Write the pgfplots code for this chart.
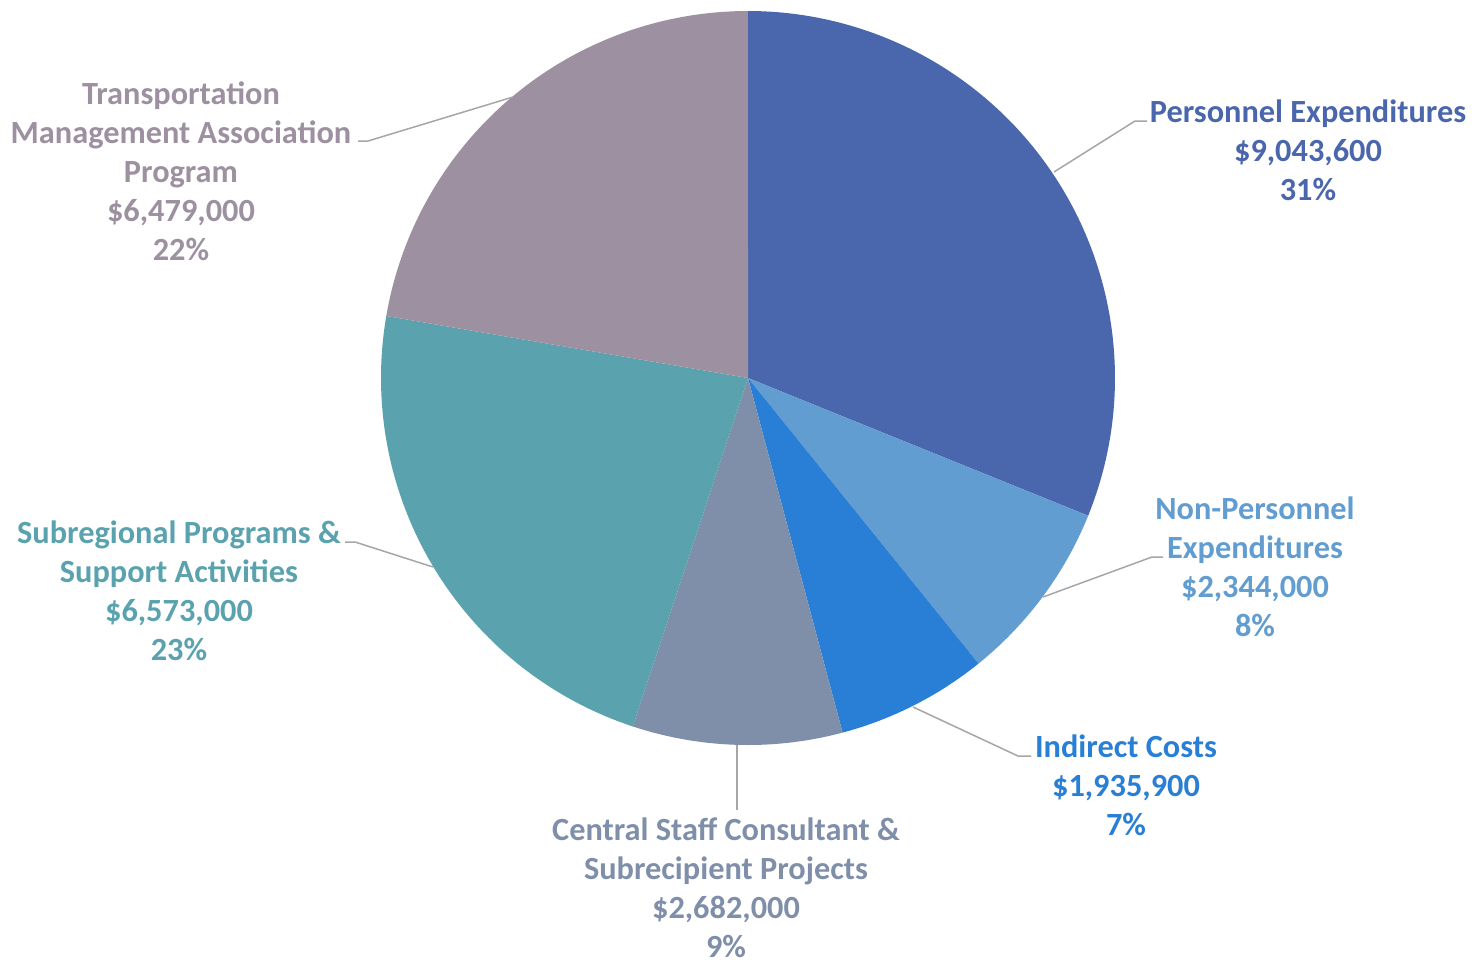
\documentclass[border=0pt]{standalone}
\usepackage{pgfplots}
\pgfplotsset{compat=1.18}
\usepackage{pgfplotstable}
\usepackage{fontspec}
\setmainfont{Carlito}
\definecolor{cPers}{HTML}{4A66AC}
\definecolor{cNonP}{HTML}{629DD1}
\definecolor{cInd}{HTML}{297FD5}
\definecolor{cCen}{HTML}{7F8FA9}
\definecolor{cSub}{HTML}{5AA2AE}
\definecolor{cTMA}{HTML}{9D90A0}
\definecolor{cLead}{HTML}{A6A6A6}
% values (USD); angles clockwise from 12 o'clock, total 29,057,500
\pgfplotstableread{
name value start end
Personnel 9043600 90 -22.043
NonPersonnel 2344000 -22.043 -51.083
Indirect 1935900 -51.083 -75.067
Central 2682000 -75.067 -108.295
Subregional 6573000 -108.295 -189.729
TMA 6479000 -189.729 -270
}\budget
\begin{document}
\begin{tikzpicture}
\begin{axis}[hide axis, scale only axis, width=14.74cm, height=9.63cm,
  xmin=0, xmax=1474, ymin=0, ymax=963, y dir=reverse, clip=false]
\def\slice#1#2#3{\addplot[draw=none, fill=#1, domain=#2:#3, samples=120, variable=\t]
   ({748+367*cos(\t)}, {378-367*sin(\t)}) -- (axis cs:748,378) -- cycle;}
\slice{cPers}{90}{-22.043}
\slice{cNonP}{-22.043}{-51.083}
\slice{cInd}{-51.083}{-75.067}
\slice{cCen}{-75.067}{-108.295}
\slice{cSub}{-108.295}{-189.729}
\slice{cTMA}{-189.729}{-270}
% leader lines
\addplot[cLead, line width=0.15mm] coordinates {(1054,172) (1135,121) (1147,121)};
\addplot[cLead, line width=0.15mm] coordinates {(1043,597) (1152,557) (1163,557)};
\addplot[cLead, line width=0.15mm] coordinates {(913,707) (1018,756) (1031,756)};
\addplot[cLead, line width=0.15mm] coordinates {(737,745) (737,810)};
\addplot[cLead, line width=0.15mm] coordinates {(345,542) (355,542) (433,567)};
\addplot[cLead, line width=0.15mm] coordinates {(358,141) (368,141) (513,97)};
% labels
\tikzset{lbl/.style={align=center, inner sep=0pt, font=\fontsize{9.2}{11.1}\selectfont\bfseries}}
\node[lbl, text=cPers] at (axis cs:1308,150) {Personnel Expenditures\\\$9,043,600\\31\%};
\node[lbl, text=cNonP] at (axis cs:1255,566.5) {Non-Personnel\\Expenditures\\\$2,344,000\\8\%};
\node[lbl, text=cInd] at (axis cs:1126,785) {Indirect Costs\\\$1,935,900\\7\%};
\node[lbl, text=cCen] at (axis cs:726,888) {Central Staff Consultant \&\\Subrecipient Projects\\\$2,682,000\\9\%};
\node[lbl, text=cSub] at (axis cs:179,590.5) {Subregional Programs \&\\Support Activities\\\$6,573,000\\23\%};
\node[lbl, text=cTMA] at (axis cs:181,171) {Transportation\\Management Association\\Program\\\$6,479,000\\22\%};
\end{axis}
\pgfresetboundingbox
\useasboundingbox (0,0) rectangle (14.74cm,9.63cm);
\end{tikzpicture}
\end{document}
